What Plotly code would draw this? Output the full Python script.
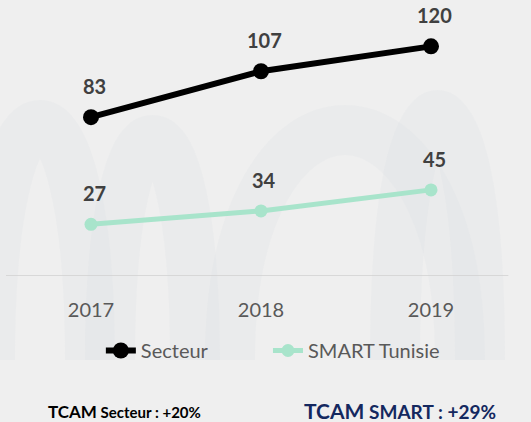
import plotly.graph_objects as go

years = ["2017", "2018", "2019"]
secteur = [83, 107, 120]
smart = [27, 34, 45]

BG = "#efefef"
FONT = "Lato, 'Open Sans', sans-serif"
PAD = "<span style='color:rgba(0,0,0,0)'>______</span>"

fig = go.Figure()
fig.add_trace(go.Scatter(
    x=years, y=secteur, name="Secteur" + PAD, mode="lines+markers",
    line=dict(color="#000000", width=6),
    marker=dict(color="#000000", size=16), hoverinfo="x+y",
))
fig.add_trace(go.Scatter(
    x=years, y=smart, name="SMART Tunisie", mode="lines+markers",
    line=dict(color="#a8e4cb", width=5),
    marker=dict(color="#a8e4cb", size=13),
))

for series in (secteur, smart):
    for i, v in enumerate(series):
        fig.add_annotation(x=i, y=v, text=f"<b>{v}</b>", showarrow=False,
                           yshift=31, xshift=3, xanchor="center", yanchor="middle",
                           font=dict(family=FONT, size=20, color="#404040"))

fig.add_annotation(xref="paper", yref="paper", x=0.232, y=-0.508, xanchor="center",
                   yanchor="middle",
                   text="<b><span style='font-size:17px'>TCAM</span> Secteur : +20%</b>",
                   showarrow=False, font=dict(family=FONT, size=15, color="#000000"))
fig.add_annotation(xref="paper", yref="paper", x=0.773, y=-0.505, xanchor="center",
                   yanchor="middle",
                   text="<b><span style='font-size:21px'>TCAM</span> SMART : +29%</b>",
                   showarrow=False, font=dict(family=FONT, size=19, color="#14285f"))

# faint decorative background brush strokes (watermark)
def px2paper(px, py):
    return (px - 6) / 510, (276 - py) / 266

def arch(x0, x1, peak, base=360):
    ctrl = base + (peak - base) / 0.75
    a = px2paper(x0, base)
    c1 = px2paper(x0, ctrl)
    c2 = px2paper(x1, ctrl)
    b = px2paper(x1, base)
    return f"M {a[0]},{a[1]} C {c1[0]},{c1[1]} {c2[0]},{c2[1]} {b[0]},{b[1]}"

for x0, x1, peak in [(-10, 90, 125), (110, 195, 140), (230, 460, 130), (395, 480, 115)]:
    fig.add_shape(type="path", xref="paper", yref="paper", path=arch(x0, x1, peak),
                  line=dict(color="rgba(200,208,222,0.11)", width=50), layer="below")

fig.update_layout(
    width=531, height=422,
    margin=dict(l=6, r=15, t=10, b=146),
    paper_bgcolor=BG, plot_bgcolor=BG,
    showlegend=True,
    legend=dict(orientation="h", x=0.186, xanchor="left", y=-0.28, yanchor="middle",
                font=dict(family=FONT, size=20, color="#595959"),
                bgcolor="rgba(0,0,0,0)"),
    xaxis=dict(type="category", range=[-0.5, 2.5], showgrid=False, zeroline=False,
               showline=False, ticks="", ticklabelstandoff=20,
               tickfont=dict(family=FONT, size=20, color="#595959")),
    yaxis=dict(range=[0, 139], showgrid=False, zeroline=False, showticklabels=False,
               showline=False),
)
fig.add_shape(type="line", xref="paper", yref="y", x0=0, x1=0.985, y0=0, y1=0,
              line=dict(color="#d0d0d0", width=1.5), layer="below")

fig.write_html("out.html", config={"displayModeBar": False},
               post_script="document.body.style.margin='0px';")
